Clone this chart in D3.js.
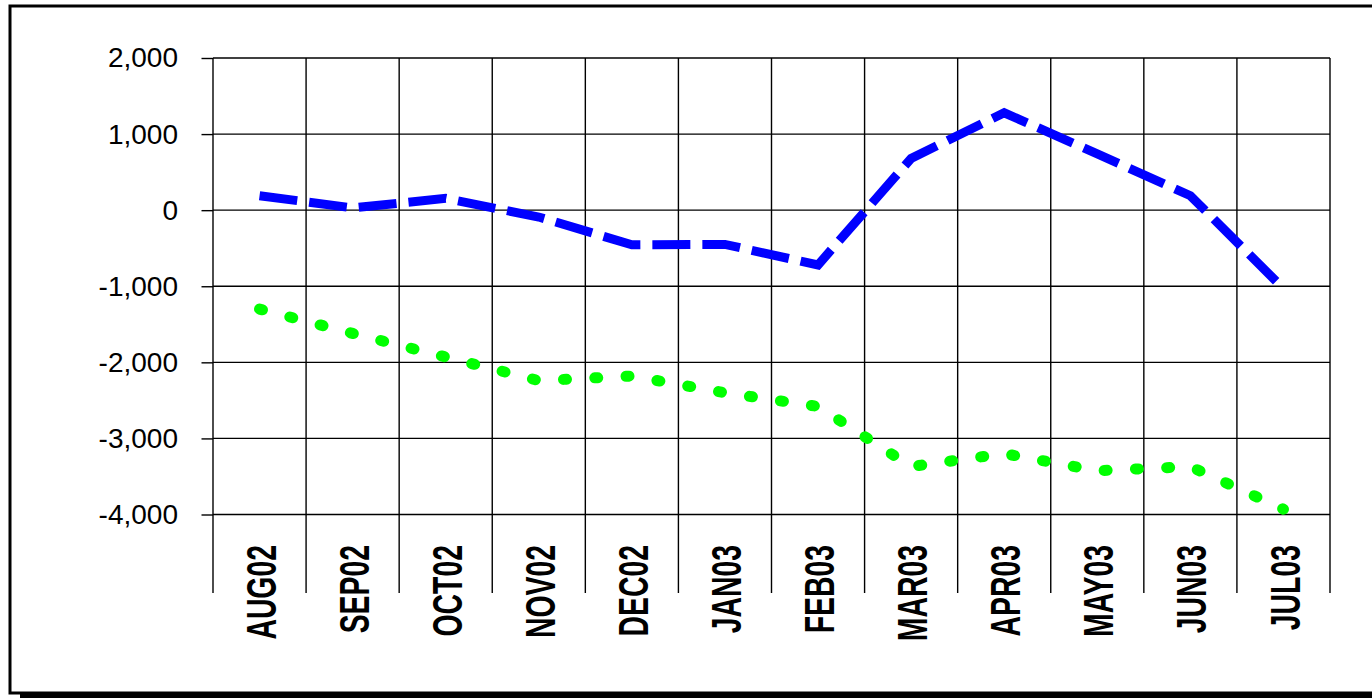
<!DOCTYPE html>
<html>
<head>
<meta charset="utf-8">
<script src="https://cdn.jsdelivr.net/npm/d3@7"></script>
<style>
  body { margin: 0; background: #fff; }
  svg { display: block; }
</style>
</head>
<body>
<script>
var categories = ['AUG02', 'SEP02', 'OCT02', 'NOV02', 'DEC02', 'JAN03', 'FEB03', 'MAR03', 'APR03', 'MAY03', 'JUN03', 'JUL03']
var blueValues = [190, 30, 155, -90, -455, -450, -720, 680, 1280, 740, 190, -1030]
var greenValues = [-1300, -1620, -1930, -2240, -2180, -2400, -2580, -3370, -3200, -3425, -3370, -3930]
var yTicks = [2000, 1000, 0, -1000, -2000, -3000, -4000]

var width = 1372, height = 698
// note: "top" is taken by window.top, so plot edges get their own names
var plotL = 213, plotR = 1330, plotT = 58, plotB = 514.5, labelBottom = 593

var svg = d3.select('body').append('svg')
    .attr('width', width)
    .attr('height', height)

// frame + shadow
svg.append('rect')
    .attr('x', 20).attr('y', 693)
    .attr('width', 1400).attr('height', 6)
    .attr('fill', '#000')
svg.append('rect')
    .attr('x', 10).attr('y', 6)
    .attr('width', 1400).attr('height', 687)
    .attr('fill', '#fff')
    .attr('stroke', '#000')
    .attr('stroke-width', 3)

var x = d3.scaleBand()
    .domain(categories)
    .range([plotL, plotR])
    .padding(0)

var y = d3.scaleLinear()
    .domain([-4000, 2000])
    .range([plotB, plotT])

var cx = function (d, i) { return x(categories[i]) + x.bandwidth() / 2 }

// horizontal grid
svg.append('g')
    .selectAll('line')
    .data(yTicks)
    .enter().append('line')
    .attr('x1', plotL).attr('x2', plotR)
    .attr('y1', function (d) { return y(d) })
    .attr('y2', function (d) { return y(d) })
    .attr('stroke', '#000')
    .attr('stroke-width', 1.4)

// vertical dividers, running down through the label area
var edges = categories.map(function (c) { return x(c) }).concat([plotR])
svg.append('g')
    .selectAll('line')
    .data(edges)
    .enter().append('line')
    .attr('x1', function (d) { return d }).attr('x2', function (d) { return d })
    .attr('y1', plotT).attr('y2', labelBottom)
    .attr('stroke', '#000')
    .attr('stroke-width', 1.4)

// y axis
var yAxis = d3.axisLeft(y)
    .tickValues(yTicks)
    .tickSize(11.5)
    .tickPadding(23.5)
    .tickFormat(function (d) { return d3.format(',')(d).replace('\u2212', '-') })

var ya = svg.append('g')
    .attr('transform', 'translate(' + plotL + ',0)')
    .call(yAxis)
ya.select('.domain').remove()
ya.selectAll('line').attr('stroke', '#000').attr('stroke-width', 1.4)
ya.selectAll('text')
    .attr('font-family', '"Liberation Sans", Arial, sans-serif')
    .attr('font-size', 28)
    .attr('fill', '#000')

// category labels, bold and condensed, reading upward
svg.append('g')
    .selectAll('text')
    .data(categories)
    .enter().append('text')
    .attr('transform', function (d) {
        return 'translate(' + (x(d) + x.bandwidth() / 2 + 1) + ',545) rotate(-90) scale(0.66,1)'
    })
    .attr('text-anchor', 'end')
    .attr('dy', '0.35em')
    .attr('font-family', '"Liberation Sans", Arial, sans-serif')
    .attr('font-weight', 'bold')
    .attr('font-size', 43)
    .attr('fill', '#000')
    .text(function (d) { return d })

var line = d3.line()
    .x(cx)
    .y(function (d) { return y(d) })

svg.append('path')
    .datum(greenValues)
    .attr('d', line)
    .attr('fill', 'none')
    .attr('stroke', '#00ff00')
    .attr('stroke-width', 11)
    .attr('stroke-linecap', 'round')
    .attr('stroke-dasharray', '3 28.3')

svg.append('path')
    .datum(blueValues)
    .attr('d', line)
    .attr('fill', 'none')
    .attr('stroke', '#0000ff')
    .attr('stroke-width', 9)
    .attr('stroke-linejoin', 'miter')
    .attr('stroke-dasharray', '38 12')
</script>
</body>
</html>
